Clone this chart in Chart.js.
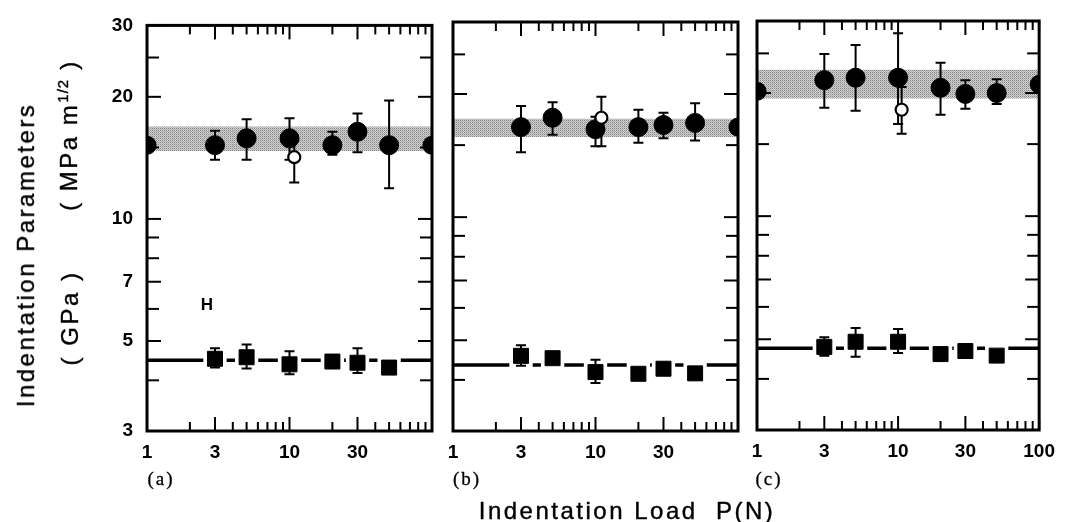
<!DOCTYPE html>
<html>
<head>
<meta charset="utf-8">
<script src="https://cdn.jsdelivr.net/npm/chart.js@4.4.1/dist/chart.umd.min.js"></script>
<style>
html,body{margin:0;padding:0;background:#fff;}
#wrap{position:relative;width:1065px;height:522px;overflow:hidden;font-family:"Liberation Sans",Arial,sans-serif;color:#000;background:#fff;}
canvas{position:absolute;left:0;top:0;}
.t{position:absolute;white-space:nowrap;line-height:1;}
.rot{transform:translate(-50%,-50%) rotate(-90deg);}
.title{font-size:24px;letter-spacing:2.5px;-webkit-text-stroke:0.4px #000;}
.panel{font-family:"Liberation Serif","Times New Roman",serif;font-size:19px;letter-spacing:2px;transform:translate(-50%,-50%);-webkit-text-stroke:0.3px #000;}
sup{font-size:15px;vertical-align:0.55em;letter-spacing:1px;}
</style>
</head>
<body>
<div id="wrap">
<canvas id="ca" width="1065" height="522"></canvas>
<canvas id="cb" width="1065" height="522"></canvas>
<canvas id="cc" width="1065" height="522"></canvas>
<div class="t rot title" style="left:26px;top:255px;">Indentation Parameters</div>
<div class="t rot title" style="left:68px;top:135px;">( MPa m<sup>1/2</sup> )</div>
<div class="t rot title" style="left:70px;top:318px;">( GPa )</div>
<div class="t title" style="left:627px;top:499px;transform:translateX(-50%);">Indentation Load &nbsp;P(N)</div>
<div class="t panel" style="left:161px;top:478px;">(a)</div>
<div class="t panel" style="left:467px;top:478px;">(b)</div>
<div class="t panel" style="left:769px;top:478px;">(c)</div>
<div class="t" style="left:207px;top:304px;transform:translate(-50%,-50%);font-weight:bold;font-size:17px;">H</div>
</div>
<script>
// ---------------- data ----------------
const loads = [3, 5, 10, 20, 30, 50];
const xTickValues = [1,2,3,4,5,6,7,8,9,10,20,30,40,50,60,70,80,90,100];
const xMajorTicks = [3, 10, 30];
const xLabelsAB = [1, 3, 10, 30];
const xLabelsC = [1, 3, 10, 30, 100];
const yTickValues = [3,4,5,6,7,8,9,10,15,20,25,30];
const yLabels = [3, 5, 7, 10, 20, 30];
const edgeLoads = [1, 100];

// panel (a)
const aK   = [15.2, 15.8, 15.8, 15.2, 16.4, 15.2];
const aKHi = [16.5, 17.6, 17.7, 16.4, 18.2, 19.6];
const aKLo = [14.0, 14.0, 14.0, 14.4, 14.6, 11.9];
const aOpenX = [10.8], aOpenK = [14.2], aOpenHi = [15.6], aOpenLo = [12.3];
const aBand = [14.7, 16.9];
const aEdge = [15.2, 15.2];
const aH   = [4.52, 4.56, 4.38, 4.45, 4.42, 4.30];
const aHHi = [4.80, 4.90, 4.72, null, 4.80, null];
const aHLo = [4.30, 4.28, 4.14, null, 4.17, null];
const aHLine = [4.48, 4.48];

// panel (b)
const bK   = [16.6, 17.5, 16.4, 16.6, 16.8, 17.0];
const bKHi = [18.7, 19.1, 17.6, 18.3, 18.0, 19.0];
const bKLo = [14.4, 15.9, 14.9, 15.2, 15.6, 15.4];
const bOpenX = [11], bOpenK = [17.5], bOpenHi = [19.7], bOpenLo = [14.9];
const bBand = [15.7, 17.4];
const bEdge = [null, 16.6];
const bH   = [4.58, 4.52, 4.18, 4.14, 4.26, 4.15];
const bHHi = [4.86, null, 4.48, null, null, null];
const bHLo = [4.33, null, 3.93, null, null, null];
const bHLine = [4.35, 4.35];

// panel (c)
const cK   = [21.5, 21.8, 21.8, 20.6, 19.9, 20.0];
const cKHi = [24.9, 26.2, 28.0, 23.7, 21.5, 21.6];
const cKLo = [18.4, 18.1, 16.8, 17.7, 18.3, 18.8];
const cOpenX = [10.6], cOpenK = [18.2], cOpenHi = [20.7], cOpenLo = [15.9];
const cBand = [19.4, 22.8];
const cEdge = [20.2, 21.0];
const cH   = [4.79, 4.93, 4.93, 4.60, 4.68, 4.56];
const cHHi = [5.06, 5.33, 5.30, null, null, null];
const cHLo = [4.56, 4.53, 4.63, null, null, null];
const cHLine = [4.75, 4.75];

// ---------------- helpers ----------------
const pc = document.createElement('canvas');
pc.width = 2; pc.height = 2;
const pctx = pc.getContext('2d');
pctx.fillStyle = '#d0d0d0'; pctx.fillRect(0,0,2,2);
pctx.fillStyle = '#858585'; pctx.fillRect(0,0,1,1);
pctx.fillStyle = '#b0b0b0'; pctx.fillRect(1,1,1,1);
const bandPattern = pctx.createPattern(pc, 'repeat');

const pts = (xs, ys) => xs.map((x, i) => ({x, y: ys[i]})).filter(p => p.y !== null);

const frameTicks = {
  id: 'frameTicks',
  afterDraw(chart) {
    const {ctx, chartArea: a, scales: {x, y}} = chart;
    ctx.save();
    ctx.strokeStyle = '#000';
    ctx.lineWidth = 2;
    const seg = (x1, y1, x2, y2) => { ctx.beginPath(); ctx.moveTo(x1, y1); ctx.lineTo(x2, y2); ctx.stroke(); };
    for (const v of xTickValues) {
      const px = x.getPixelForValue(v);
      const len = xMajorTicks.includes(v) ? 14 : 9;
      seg(px, a.bottom, px, a.bottom - len);
      seg(px, a.top, px, a.top + len);
    }
    for (const v of yTickValues) {
      const py = y.getPixelForValue(v);
      const len = yLabels.includes(v) ? 14 : 12;
      seg(a.left, py, a.left + len, py);
      seg(a.right, py, a.right - len, py);
    }
    ctx.lineWidth = 3;
    ctx.strokeRect(a.left, a.top, a.right - a.left, a.bottom - a.top);
    ctx.restore();
  }
};

const errorBars = {
  id: 'errorBars',
  afterDatasetDraw(chart, args) {
    const ds = chart.data.datasets[args.index];
    if (!ds.drawErrorsAfter) return;
    const {ctx, scales: {x, y}} = chart;
    ctx.save();
    ctx.strokeStyle = '#000';
    ctx.lineWidth = 2;
    for (const d of chart.data.datasets) {
      if (!d.errX) continue;
      d.errX.forEach((xv, i) => {
        const hi = d.errHi[i], lo = d.errLo[i];
        if (hi === null || lo === null) return;
        const px = x.getPixelForValue(xv);
        const pyH = y.getPixelForValue(hi), pyL = y.getPixelForValue(lo);
        ctx.beginPath();
        ctx.moveTo(px, pyH); ctx.lineTo(px, pyL);
        ctx.moveTo(px - 5, pyH); ctx.lineTo(px + 5, pyH);
        ctx.moveTo(px - 5, pyL); ctx.lineTo(px + 5, pyL);
        ctx.stroke();
      });
    }
    ctx.restore();
  }
};

function makePanel(id, area, showY, xLabels, K, KHi, KLo, oX, oK, oHi, oLo, band, edge, H, HHi, HLo, HLine) {
  new Chart(document.getElementById(id), {
    type: 'scatter',
    data: {
      datasets: [
        { data: pts(edgeLoads, [band[0], band[0]]), showLine: true, pointRadius: 0, borderWidth: 0, borderColor: 'rgba(0,0,0,0)', fill: false, order: 20, clip: 0 },
        { data: pts(edgeLoads, [band[1], band[1]]), showLine: true, pointRadius: 0, borderWidth: 0, borderColor: 'rgba(0,0,0,0)', backgroundColor: bandPattern, fill: '-1', order: 19, clip: 0 },
        { data: pts(edgeLoads, HLine), showLine: true, pointRadius: 0, borderWidth: 3.5, borderColor: '#000', order: 15, clip: 0 },
        { data: pts(loads, H), pointStyle: 'rect', pointRadius: 16.5, backgroundColor: '#fff', borderWidth: 0, order: 12, drawErrorsAfter: true },
        { data: pts(loads, H), pointStyle: 'rect', pointRadius: 10.6, backgroundColor: '#000', borderColor: '#000', borderWidth: 1, order: 8, errX: loads, errHi: HHi, errLo: HLo },
        { data: pts(loads, K), pointStyle: 'circle', pointRadius: 9.5, backgroundColor: '#000', borderColor: '#000', borderWidth: 1, order: 7, errX: loads, errHi: KHi, errLo: KLo },
        { data: pts(oX, oK), pointStyle: 'circle', pointRadius: 6, backgroundColor: '#fff', borderColor: '#000', borderWidth: 2.2, order: 6, errX: oX, errHi: oHi, errLo: oLo },
        { data: pts(edgeLoads, edge), pointStyle: 'circle', pointRadius: 9.5, backgroundColor: '#000', borderWidth: 0, order: 7, clip: 0 }
      ]
    },
    options: {
      responsive: false,
      animation: false,
      devicePixelRatio: 1,
      events: [],
      layout: { padding: { left: 0, bottom: 0, top: area.top, right: 1065 - area.right } },
      plugins: { legend: { display: false }, tooltip: { enabled: false }, title: { display: false } },
      scales: {
        x: {
          type: 'logarithmic', min: 1, max: 100, position: 'bottom',
          afterFit: s => { s.height = 522 - area.bottom; },
          afterBuildTicks: s => { s.ticks = xTickValues.map(v => ({value: v})); },
          grid: { display: false, drawTicks: false },
          border: { display: false },
          ticks: {
            autoSkip: false, maxRotation: 0, minRotation: 0, padding: 10,
            color: '#000', font: { family: '"Liberation Sans", Arial, sans-serif', size: 19, weight: 'bold' },
            callback: v => xLabels.includes(v) ? String(v) : ''
          }
        },
        y: {
          type: 'logarithmic', min: 3, max: 30, position: 'left',
          afterFit: s => { s.width = area.left; },
          afterBuildTicks: s => { s.ticks = yTickValues.map(v => ({value: v})); },
          grid: { display: false, drawTicks: false },
          border: { display: false },
          ticks: {
            display: showY, autoSkip: false, padding: 14,
            color: '#000', font: { family: '"Liberation Sans", Arial, sans-serif', size: 19, weight: 'bold' },
            callback: v => yLabels.includes(v) ? String(v) : ''
          }
        }
      }
    },
    plugins: [frameTicks, errorBars]
  });
}

makePanel('ca', {left: 147, right: 432, top: 23, bottom: 431}, true, xLabelsAB,
  aK, aKHi, aKLo, aOpenX, aOpenK, aOpenHi, aOpenLo, aBand, aEdge, aH, aHHi, aHLo, aHLine);
makePanel('cb', {left: 453, right: 738, top: 22, bottom: 431}, false, xLabelsAB,
  bK, bKHi, bKLo, bOpenX, bOpenK, bOpenHi, bOpenLo, bBand, bEdge, bH, bHHi, bHLo, bHLine);
makePanel('cc', {left: 757, right: 1042, top: 21, bottom: 430}, false, xLabelsC,
  cK, cKHi, cKLo, cOpenX, cOpenK, cOpenHi, cOpenLo, cBand, cEdge, cH, cHHi, cHLo, cHLine);
</script>
</body>
</html>
